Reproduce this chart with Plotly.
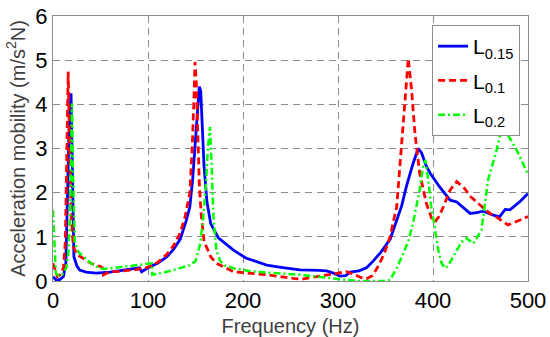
import plotly.graph_objects as go

# L0.15 (blue, solid)
f_b = [0, 3, 7, 11, 13.5, 15, 17, 19, 20, 21, 22, 25, 28, 35, 45, 60, 75, 88, 91, 93.3, 96, 100, 110, 120, 127, 134, 140, 144, 147, 150, 152, 154, 155.5, 157, 159, 162, 166, 174, 190, 203, 225, 240, 260, 280, 288, 295, 302, 308, 313, 322, 330, 337, 345, 355, 362, 367, 372, 379, 384.5, 388, 393, 397, 407, 418, 425, 432, 439, 446, 453, 463.5, 470, 476, 481, 491.6, 500]
y_b = [0.1, 0.03, 0.03, 0.1, 0.4, 1.5, 3.5, 4.25, 3.0, 1.2, 0.55, 0.35, 0.25, 0.2, 0.18, 0.2, 0.25, 0.29, 0.3, 0.21, 0.25, 0.3, 0.4, 0.55, 0.72, 0.95, 1.35, 1.67, 2.3, 3.2, 4.0, 4.4, 4.3, 3.6, 2.6, 1.8, 1.3, 0.98, 0.7, 0.52, 0.36, 0.31, 0.25, 0.24, 0.23, 0.18, 0.11, 0.12, 0.2, 0.23, 0.3, 0.45, 0.65, 0.95, 1.38, 1.7, 2.14, 2.66, 3.0, 2.9, 2.6, 2.44, 2.13, 1.83, 1.79, 1.65, 1.53, 1.55, 1.58, 1.49, 1.45, 1.62, 1.61, 1.8, 1.98]

# L0.1 (red, dashed)
f_r = [0, 2, 4.6, 8, 11, 13, 14.5, 16, 17.5, 19, 21.4, 25, 32, 40, 46, 50, 52, 53, 56, 60, 70, 84.5, 98.6, 110, 119.7, 127, 133.7, 139, 144, 146.5, 148.5, 149.5, 151, 152.5, 154, 156, 159, 166, 172, 190, 225, 253, 262, 277.5, 295, 309, 317, 324, 330, 336, 340, 344, 350, 354.7, 361.8, 367, 371.6, 374, 377.5, 381, 386, 393, 398.6, 402, 406, 410.9, 418, 425, 433, 440, 449.5, 460, 470, 479, 491.6, 500]
y_r = [0.4, 0.25, 0.1, 0.15, 0.3, 0.9, 2.5, 4.74, 3.0, 1.5, 0.78, 0.6, 0.51, 0.4, 0.35, 0.33, 0.3, 0.14, 0.17, 0.21, 0.22, 0.25, 0.3, 0.42, 0.6, 0.8, 1.08, 1.45, 1.99, 3.0, 4.2, 4.96, 4.4, 3.3, 2.2, 1.5, 0.9, 0.55, 0.4, 0.21, 0.14, 0.06, 0.04, 0.1, 0.17, 0.21, 0.15, 0.08, 0.05, 0.12, 0.25, 0.4, 0.7, 1.0, 1.68, 3.19, 4.55, 5.04, 4.32, 3.34, 2.44, 1.76, 1.42, 1.34, 1.45, 1.68, 2.06, 2.25, 2.1, 1.9, 1.72, 1.53, 1.4, 1.27, 1.38, 1.46]

# L0.2 (green, dash-dot)
f_g = [0, 1.5, 3, 6, 10, 14, 16, 18, 19, 20, 21, 22, 23, 27, 32, 40, 46, 53, 65, 84.5, 95, 104, 104.5, 112, 120, 132, 144, 150, 155, 158, 161, 163, 165.3, 167, 169, 172, 176, 181, 190, 205, 225, 260, 295, 309, 320, 340, 351, 355, 362, 368.8, 374, 379, 383, 386, 389.5, 392, 395, 398, 400.4, 405.6, 409, 412.6, 416, 419.6, 425, 430, 435, 442.5, 451, 458, 467, 474, 479, 488, 495, 500]
y_g = [1.6, 1.0, 0.18, 0.12, 0.15, 0.3, 0.6, 1.5, 2.8, 4.02, 2.5, 1.3, 0.85, 0.65, 0.56, 0.4, 0.32, 0.27, 0.3, 0.35, 0.38, 0.4, 0.14, 0.17, 0.21, 0.28, 0.36, 0.45, 0.85, 1.4, 2.2, 3.0, 3.49, 2.6, 1.4, 0.7, 0.45, 0.35, 0.29, 0.23, 0.19, 0.14, 0.06, 0.02, 0.0, 0.0, 0.0, 0.03, 0.3, 0.63, 0.9, 1.31, 1.7, 2.06, 2.59, 2.74, 2.29, 1.7, 1.4, 0.7, 0.4, 0.29, 0.35, 0.48, 0.7, 0.88, 0.97, 0.85, 1.15, 2.29, 2.97, 3.6, 3.3, 2.97, 2.65, 2.4]

names = ["L<sub>0.15</sub>", "L<sub>0.1</sub>", "L<sub>0.2</sub>"]

FONT = "Liberation Sans, Arial, sans-serif"

fig = go.Figure()
fig.add_trace(go.Scatter(x=f_b, y=y_b, mode="lines", name=names[0], legendgroup="a",
                         line=dict(color="#0000FF", width=2.8, dash="solid")))
fig.add_trace(go.Scatter(x=f_r, y=y_r, mode="lines", name=names[1], legendgroup="b",
                         line=dict(color="#FF0000", width=2.8, dash="7px,4px")))
fig.add_trace(go.Scatter(x=f_g, y=y_g, mode="lines", name=names[2], legendgroup="c",
                         line=dict(color="#00FF00", width=2.5, dash="7px,3px,2px,3px")))

axis_common = dict(showgrid=True, gridcolor="#8c8c8c", griddash="7px,5px", gridwidth=1,
                   showline=True, linecolor="#8c8c8c", linewidth=1, mirror=True,
                   zeroline=False, ticks="", tickfont=dict(size=22, color="black", family=FONT))

fig.update_xaxes(range=[0, 500], dtick=100, tick0=0,
                 title=dict(text="Frequency (Hz)", font=dict(size=20, color="#404040", family=FONT), standoff=6),
                 **axis_common)
fig.update_yaxes(range=[0, 6], dtick=1, tick0=0,
                 title=dict(text="Acceleration mobility (m/s<sup>2</sup>N)", font=dict(size=20, color="#404040", family=FONT), standoff=4),
                 **axis_common)

fig.update_layout(
    width=550, height=337,
    margin=dict(l=53, r=22, t=16, b=56, autoexpand=False),
    paper_bgcolor="white", plot_bgcolor="white",
    font=dict(family=FONT),
    showlegend=True,
    legend=dict(x=0.798, y=0.966, xanchor="left", yanchor="top",
                bgcolor="white", bordercolor="#8c8c8c", borderwidth=1,
                font=dict(size=21, color="black", family=FONT),
                itemwidth=30, tracegroupgap=4),
)

fig.write_html("out.html", config={"displayModeBar": False},
               post_script="document.body.style.margin='0px';document.body.style.overflow='hidden';")
